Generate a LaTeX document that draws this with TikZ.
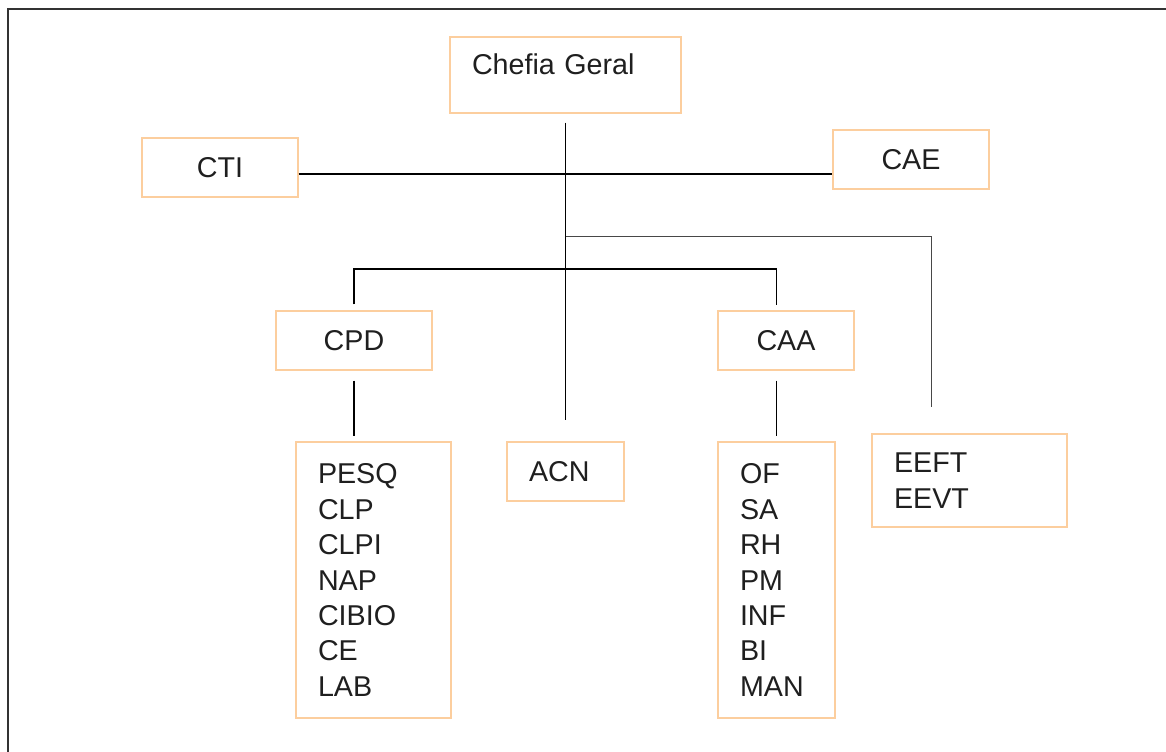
\documentclass[tikz,border=0pt]{standalone}
\usepackage{fontspec}
\setmainfont{Liberation Sans}
\usepackage{tikz}
\usetikzlibrary{calc}
\definecolor{unitline}{RGB}{252,206,158}
\definecolor{linkgray}{RGB}{72,72,72}
\definecolor{framegray}{RGB}{51,51,51}
\tikzset{
	org chart/.style={
		x=0.75pt, y=-0.75pt,
		font=\fontsize{21.5}{26.6}\selectfont,
		text=black!88,
		link/.style={draw=black, line width=1.45pt},
		thin link/.style={draw=linkgray, line width=0.75pt},
		frame/.style={draw=framegray, line width=1.7pt}
		},
	unit/.style 2 args={draw=unitline, line width=0.9pt,
		minimum width=#1*0.75pt, minimum height=#2*0.75pt,
		inner xsep=16.5pt, inner ysep=0pt},
	unit list/.code 2 args={
		\pgfmathsetlengthmacro{\unitw}{(#1-44)*0.75pt}
		\pgfkeysalso{unit={#1}{#2}, text width=\unitw, align=left}
	}
}

\begin{document}
\begin{tikzpicture}[org chart]
	\useasboundingbox (0,0) rectangle (1166,752);
	\draw[frame] (8,752) -- (8,9) -- (1166,9);
	% units
	\node[unit list={231}{76}, inner ysep=12pt, text height=15.75pt, text depth=16.5pt] (chefia) at (565.5,75) {Chefia Geral};
	\node[unit={156}{59}] (cti) at (220,167.5) {CTI};
	\node[unit={156}{59}] (cae) at (911,159.5) {CAE};
	\node[unit={156}{59}] (cpd) at (354,340.5) {CPD};
	\node[unit={136}{59}] (caa) at (786,340.5) {CAA};
	\node[unit list={155}{276}] (cpdlist) at (373.5,580) {PESQ\\CLP\\CLPI\\NAP\\CIBIO\\CE\\LAB};
	\node[unit list={117}{59}] (acn) at (565.5,471.5) {ACN};
	\node[unit list={117}{276}] (caalist) at (776.5,580) {OF\\SA\\RH\\PM\\INF\\BI\\MAN};
	\node[unit list={195}{93}] (ee) at (969.5,480.5) {EEFT\\EEVT};
	% free ends of the links
	\coordinate (hub top) at ($(chefia.south)+(0,9)$);
	\coordinate (hub end) at ($(acn.north)+(0,-21)$);
	\coordinate (bus) at ($(chefia.south)+(0,60)$);
	\coordinate (ee fork) at ($(chefia.south)+(0,123)$);
	\coordinate (ee end) at ($(ee.north)+(-38.5,-26)$);
	\coordinate (fork) at ($(chefia.south)+(0,155)$);
	\coordinate (cpd in) at ($(cpd.north)+(0,-6)$);
	\coordinate (caa in) at ($(caa.north -| caalist.north)+(0,-5)$);
	\coordinate (cpd out) at ($(cpd.south)+(0,10)$);
	\coordinate (caa out) at ($(caa.south -| caalist.north)+(0,10)$);
	\coordinate (cpdlist in) at ($(cpd.south |- cpdlist.north)+(0,-5)$);
	\coordinate (caalist in) at ($(caalist.north)+(0,-5)$);
	% links
	\draw[link] (hub top) -- (hub end);
	\draw[link] (cti.east |- bus) -- (cae.west |- bus);
	\draw[thin link] (ee fork) -| (ee end);
	\draw[link] (cpd in) -- (cpd in |- fork) -- (caa in |- fork) -- (caa in);
	\draw[link] (cpd out) -- (cpdlist in);
	\draw[link] (caa out) -- (caalist in);
\end{tikzpicture}
\end{document}
